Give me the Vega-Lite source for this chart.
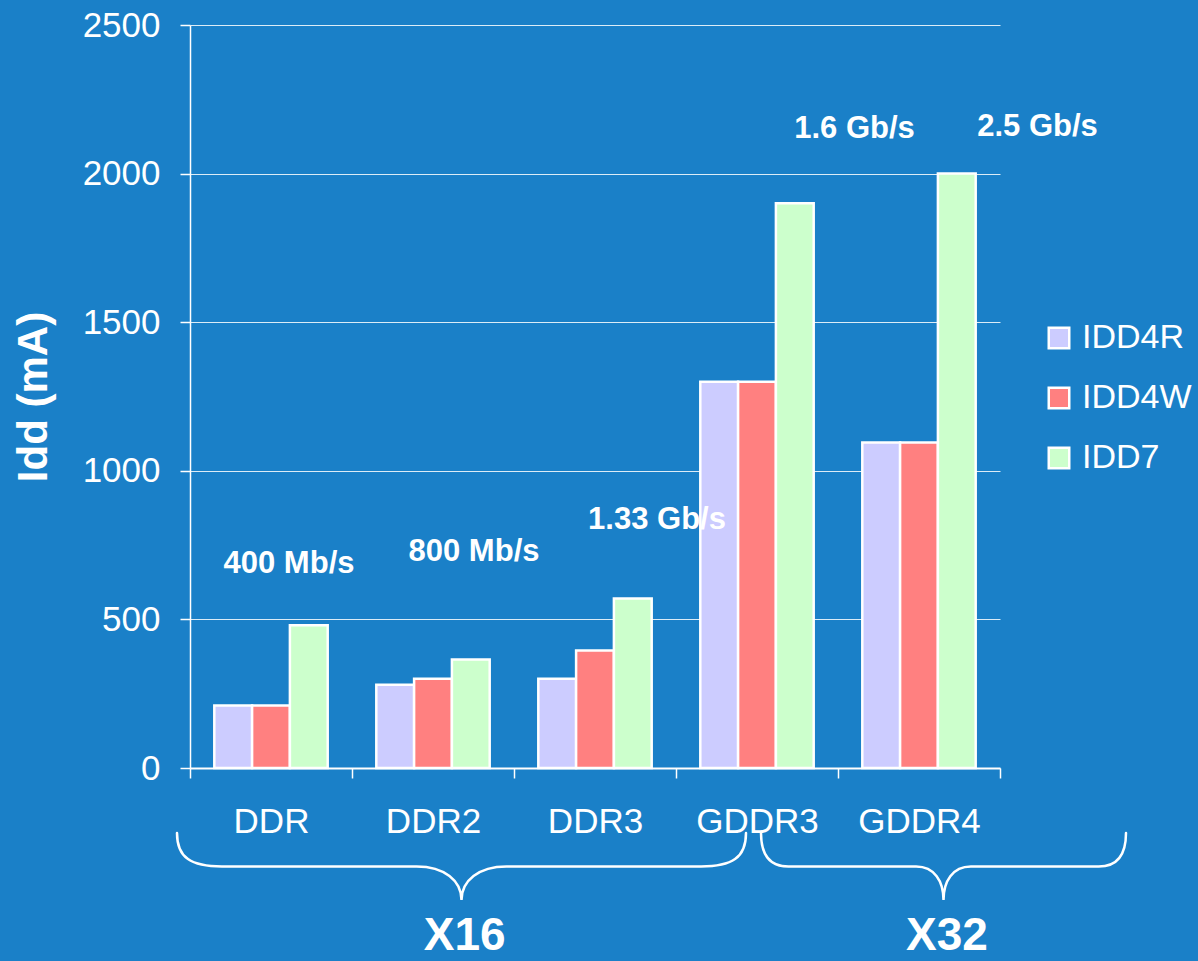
{
  "$schema": "https://vega.github.io/schema/vega-lite/v6.json",
  "width": 810,
  "height": 743,
  "autosize": {"type": "none"},
  "padding": {"left": 190, "top": 25, "right": 198, "bottom": 193},
  "background": "#1a80c8",
  "config": {
    "font": "Liberation Sans",
    "view": {"stroke": null},
    "axis": {"labelFont": "Liberation Sans", "titleFont": "Liberation Sans"},
    "legend": {"labelFont": "Liberation Sans"}
  },
  "datasets": {
    "current": [
      {"memory": "DDR", "mode": "IDD4R", "mA": 210},
      {"memory": "DDR", "mode": "IDD4W", "mA": 210},
      {"memory": "DDR", "mode": "IDD7", "mA": 480},
      {"memory": "DDR2", "mode": "IDD4R", "mA": 280},
      {"memory": "DDR2", "mode": "IDD4W", "mA": 300},
      {"memory": "DDR2", "mode": "IDD7", "mA": 365},
      {"memory": "DDR3", "mode": "IDD4R", "mA": 300},
      {"memory": "DDR3", "mode": "IDD4W", "mA": 395},
      {"memory": "DDR3", "mode": "IDD7", "mA": 570},
      {"memory": "GDDR3", "mode": "IDD4R", "mA": 1300},
      {"memory": "GDDR3", "mode": "IDD4W", "mA": 1300},
      {"memory": "GDDR3", "mode": "IDD7", "mA": 1900},
      {"memory": "GDDR4", "mode": "IDD4R", "mA": 1095},
      {"memory": "GDDR4", "mode": "IDD4W", "mA": 1095},
      {"memory": "GDDR4", "mode": "IDD7", "mA": 2000}
    ],
    "rates": [
      {"memory": "DDR", "rate": "400 Mb/s"},
      {"memory": "DDR2", "rate": "800 Mb/s"},
      {"memory": "DDR3", "rate": "1.33 Gb/s"},
      {"memory": "GDDR3", "rate": "1.6 Gb/s"},
      {"memory": "GDDR4", "rate": "2.5 Gb/s"}
    ],
    "buses": [
      {"bus": "X16"},
      {"bus": "X32"}
    ]
  },
  "layer": [
    {
      "data": {"name": "current"},
      "mark": {"type": "bar", "stroke": "white", "strokeWidth": 2.5},
      "encoding": {
        "x": {
          "field": "memory",
          "type": "nominal",
          "title": null,
          "scale": {"domain": ["DDR", "DDR2", "DDR3", "GDDR3", "GDDR4"], "paddingInner": 0, "paddingOuter": 0},
          "axis": {
            "title": null,
            "labelAngle": 0,
            "labelColor": "white",
            "labelFontSize": 35,
            "labelPadding": 26,
            "labelBaseline": "top",
            "tickBand": "extent",
            "tickColor": "white",
            "tickSize": 10,
            "tickWidth": 1.5,
            "domainColor": "white",
            "domainWidth": 2,
            "grid": false
          }
        },
        "xOffset": {
          "field": "mode",
          "type": "nominal",
          "scale": {"domain": ["IDD4R", "IDD4W", "IDD7"], "paddingInner": 0, "paddingOuter": 0.643}
        },
        "y": {
          "field": "mA",
          "type": "quantitative",
          "title": "Idd (mA)",
          "scale": {"domain": [0, 2500], "nice": false},
          "axis": {
            "title": "Idd (mA)",
            "titleColor": "white",
            "titleFontSize": 42,
            "titleFontWeight": "bold",
            "titleAngle": -90,
            "titleAlign": "center",
            "titleBaseline": "middle",
            "titleX": -157,
            "titleY": 371.5,
            "values": [0, 500, 1000, 1500, 2000, 2500],
            "format": "d",
            "labelColor": "white",
            "labelFontSize": 35,
            "labelPadding": 20,
            "labelFlush": false,
            "tickColor": "white",
            "tickSize": 10,
            "tickWidth": 1.5,
            "domainColor": "white",
            "domainWidth": 1.5,
            "grid": true,
            "gridColor": "white",
            "gridOpacity": 0.85,
            "gridWidth": 1
          }
        },
        "color": {
          "field": "mode",
          "type": "nominal",
          "scale": {"domain": ["IDD4R", "IDD4W", "IDD7"], "range": ["#ccccff", "#ff8080", "#ccffcc"]},
          "legend": {
            "title": null,
            "orient": "none",
            "legendX": 852,
            "legendY": 296,
            "padding": 0,
            "labelColor": "white",
            "labelFontSize": 34,
            "labelOffset": 6,
            "symbolType": "square",
            "symbolSize": 420,
            "symbolStrokeColor": "white",
            "symbolStrokeWidth": 2.5,
            "symbolOpacity": 1,
            "rowPadding": 26
          }
        }
      }
    },
    {
      "data": {"name": "rates"},
      "transform": [{"filter": "datum.memory === 'DDR'"}],
      "mark": {"type": "text", "dx": 18, "fontSize": 31, "fontWeight": "bold", "color": "white", "baseline": "alphabetic", "align": "center"},
      "encoding": {
        "x": {"field": "memory", "type": "nominal", "title": null},
        "y": {"datum": 656, "type": "quantitative", "title": "Idd (mA)", "scale": {"domain": [0, 2500], "nice": false}},
        "text": {"field": "rate"}
      }
    },
    {
      "data": {"name": "rates"},
      "transform": [{"filter": "datum.memory === 'DDR2'"}],
      "mark": {"type": "text", "dx": 41, "fontSize": 31, "fontWeight": "bold", "color": "white", "baseline": "alphabetic", "align": "center"},
      "encoding": {
        "x": {"field": "memory", "type": "nominal", "title": null},
        "y": {"datum": 696, "type": "quantitative", "title": "Idd (mA)", "scale": {"domain": [0, 2500], "nice": false}},
        "text": {"field": "rate"}
      }
    },
    {
      "data": {"name": "rates"},
      "transform": [{"filter": "datum.memory === 'DDR3'"}],
      "mark": {"type": "text", "dx": 62, "fontSize": 31, "fontWeight": "bold", "color": "white", "baseline": "alphabetic", "align": "center"},
      "encoding": {
        "x": {"field": "memory", "type": "nominal", "title": null},
        "y": {"datum": 804, "type": "quantitative", "title": "Idd (mA)", "scale": {"domain": [0, 2500], "nice": false}},
        "text": {"field": "rate"}
      }
    },
    {
      "data": {"name": "rates"},
      "transform": [{"filter": "datum.memory === 'GDDR3'"}],
      "mark": {"type": "text", "dx": 97.5, "fontSize": 31, "fontWeight": "bold", "color": "white", "baseline": "alphabetic", "align": "center"},
      "encoding": {
        "x": {"field": "memory", "type": "nominal", "title": null},
        "y": {"datum": 2120, "type": "quantitative", "title": "Idd (mA)", "scale": {"domain": [0, 2500], "nice": false}},
        "text": {"field": "rate"}
      }
    },
    {
      "data": {"name": "rates"},
      "transform": [{"filter": "datum.memory === 'GDDR4'"}],
      "mark": {"type": "text", "dx": 118.5, "fontSize": 31, "fontWeight": "bold", "color": "white", "baseline": "alphabetic", "align": "center"},
      "encoding": {
        "x": {"field": "memory", "type": "nominal", "title": null},
        "y": {"datum": 2127, "type": "quantitative", "title": "Idd (mA)", "scale": {"domain": [0, 2500], "nice": false}},
        "text": {"field": "rate"}
      }
    },
    {
      "data": {"name": "buses"},
      "transform": [{"filter": "datum.bus === 'X16'"}],
      "mark": {
        "type": "point",
        "shape": "M -1 -0.118 C -1 -0.03 -0.95 0 -0.842 0 L -0.158 0 C -0.06 0 0 0.05 0 0.118 C 0 0.05 0.06 0 0.158 0 L 0.842 0 C 0.95 0 1 -0.03 1 -0.118",
        "size": 323761,
        "filled": false,
        "color": "white",
        "strokeWidth": 2.5,
        "strokeCap": "round",
        "opacity": 1,
        "xOffset": 28.5
      },
      "encoding": {
        "x": {"datum": "DDR2", "type": "nominal", "title": null},
        "y": {"datum": -331.4, "type": "quantitative", "title": "Idd (mA)", "scale": {"domain": [0, 2500], "nice": false}}
      }
    },
    {
      "data": {"name": "buses"},
      "transform": [{"filter": "datum.bus === 'X32'"}],
      "mark": {
        "type": "point",
        "shape": "M -1 -0.184 C -1 -0.05 -0.94 0 -0.85 0 L -0.15 0 C -0.05 0 0 0.08 0 0.184 C 0 0.08 0.05 0 0.15 0 L 0.85 0 C 0.94 0 1 -0.05 1 -0.184",
        "size": 133225,
        "filled": false,
        "color": "white",
        "strokeWidth": 2.5,
        "strokeCap": "round",
        "opacity": 1,
        "xOffset": 24.5
      },
      "encoding": {
        "x": {"datum": "GDDR4", "type": "nominal", "title": null},
        "y": {"datum": -331.4, "type": "quantitative", "title": "Idd (mA)", "scale": {"domain": [0, 2500], "nice": false}}
      }
    },
    {
      "data": {"name": "buses"},
      "transform": [{"filter": "datum.bus === 'X16'"}],
      "mark": {"type": "text", "dx": 31.7, "fontSize": 46, "fontWeight": "bold", "color": "white", "baseline": "alphabetic", "align": "center"},
      "encoding": {
        "x": {"datum": "DDR2", "type": "nominal", "title": null},
        "y": {"datum": -612, "type": "quantitative", "title": "Idd (mA)", "scale": {"domain": [0, 2500], "nice": false}},
        "text": {"field": "bus"}
      }
    },
    {
      "data": {"name": "buses"},
      "transform": [{"filter": "datum.bus === 'X32'"}],
      "mark": {"type": "text", "dx": 28, "fontSize": 46, "fontWeight": "bold", "color": "white", "baseline": "alphabetic", "align": "center"},
      "encoding": {
        "x": {"datum": "GDDR4", "type": "nominal", "title": null},
        "y": {"datum": -612, "type": "quantitative", "title": "Idd (mA)", "scale": {"domain": [0, 2500], "nice": false}},
        "text": {"field": "bus"}
      }
    }
  ]
}
